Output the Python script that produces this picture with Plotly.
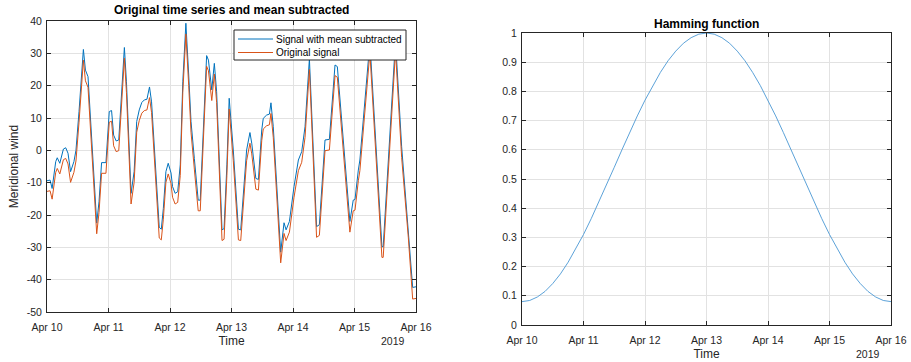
import pandas as pd
import plotly.graph_objects as go

# ---------------- data ----------------
start = pd.Timestamp("2019-04-10 00:00")

# hours since Apr 10 00:00 of the wind samples
hours = [0, 1.2, 2, 3.4, 4, 5, 6.4, 7.3, 8.2, 9.2, 10.5, 11.3, 12.5, 14.2, 15, 16,
         19.4, 20.3, 21.3, 23, 24.3, 25.2, 26, 27, 28, 29, 30.2, 31, 32.8, 34, 35,
         36, 37, 38, 39, 40, 40.8, 43.8, 44.6, 45.4, 46.4, 47.3, 48.4, 49, 50, 51,
         52, 53, 54.2, 55.3, 56.2, 57.5, 59, 59.8, 62.3, 63, 64.3, 65.3, 66.2, 68.3,
         69.1, 70.2, 71.1, 72.7, 74.7, 75.6, 76.9, 77.9, 79.2, 79.9, 81.5, 82.5, 83.8,
         84.4, 85.7, 86.8, 87.4, 88.3, 91.2, 92.5, 93.3, 94.6, 96.4, 98.1, 99.4, 100.7,
         102.4, 105.2, 106.3, 108.5, 110.2, 112.4, 113.3, 118.2, 119.5, 120.2, 121.5,
         122.1, 126, 130.7, 131.2, 136, 138.4, 141, 142.7, 144]

mean_subtracted = [-9.4, -9.2, -11.8, -3.5, -2.3, -4.0, 0.4, 0.8, -0.9, -6.6, -3.5, 0.0,
                   12.0, 31.2, 24.8, 22.8, -22.5, -15.9, -3.8, -3.8, 12.0, 12.3, 4.7, 2.9,
                   3.2, 15.0, 31.8, 21.2, -13.3, -6.6, 8.9, 12.5, 14.8, 15.6, 15.8, 19.6,
                   15.0, -23.8, -24.4, -18.0, -6.6, -4.0, -7.0, -11.2, -13.3, -12.8, -4.5,
                   21.2, 39.3, 23.3, 8.9, -2.5, -15.4, -15.4, 29.3, 27.9, 18.7, 26.9, 18.1,
                   -24.6, -24.2, -4.5, 16.1, 0.1, -24.4, -24.6, -11.2, 0.1, 5.5, 2.2, -8.7,
                   -9.0, 6.3, 9.9, 10.9, 11.2, 14.7, 7.3, -31.5, -22.4, -24.6, -22.0, -11.2,
                   -3.0, -0.4, 7.3, 28.3, -23.6, -23.0, 3.2, 3.4, 26.4, 25.9, -22.0, -15.4,
                   -15.2, -6.1, -3.0, 33.5, -29.8, -29.8, 34.0, 1.1, -23.6, -42.4, -42.2]

original = [-12.7, -12.5, -15.1, -6.8, -5.6, -7.3, -2.9, -2.5, -4.2, -9.9, -6.8, -3.3,
            8.7, 27.9, 21.5, 19.5, -25.8, -19.2, -7.1, -7.1, 8.7, 9.0, 1.4, -0.4,
            -0.1, 11.7, 28.5, 17.9, -16.6, -9.9, 5.6, 9.2, 11.5, 12.3, 12.5, 16.3,
            11.7, -27.1, -27.7, -21.3, -9.9, -7.3, -10.3, -14.5, -16.6, -16.1, -7.8,
            17.9, 36.0, 20.0, 5.6, -5.8, -18.7, -18.7, 26.0, 24.6, 15.4, 23.6, 14.8,
            -27.9, -27.5, -7.8, 12.8, -3.2, -27.7, -27.9, -14.5, -3.2, 2.2, -1.1, -12.0,
            -12.3, 3.0, 6.6, 7.6, 7.9, 11.4, 4.0, -34.8, -25.7, -27.9, -25.3, -14.5,
            -6.3, -3.7, 4.0, 25.0, -26.9, -26.3, -0.1, 0.1, 23.1, 22.6, -25.3, -18.7,
            -18.5, -9.4, -6.3, 30.2, -33.1, -33.1, 30.7, -2.2, -26.9, -46.0, -45.8]

hamming_hours = list(range(0, 145, 3))
hamming_values = [0.080, 0.084, 0.096, 0.115, 0.142, 0.175, 0.215, 0.260, 0.310, 0.364,
                  0.421, 0.480, 0.540, 0.600, 0.659, 0.716, 0.770, 0.820, 0.865, 0.905,
                  0.938, 0.965, 0.984, 0.996, 1.000, 0.996, 0.984, 0.965, 0.938, 0.905,
                  0.865, 0.820, 0.770, 0.716, 0.659, 0.600, 0.540, 0.480, 0.421, 0.364,
                  0.310, 0.260, 0.215, 0.175, 0.142, 0.115, 0.096, 0.084, 0.080]

series_names = ["Signal with mean subtracted", "Original signal"]
tick_dates = ["2019-04-10", "2019-04-11", "2019-04-12", "2019-04-13",
              "2019-04-14", "2019-04-15", "2019-04-16"]
tick_labels = ["Apr 10", "Apr 11", "Apr 12", "Apr 13", "Apr 14", "Apr 15", "Apr 16"]
wind_ticks = [-50, -40, -30, -20, -10, 0, 10, 20, 30, 40]
wind_tick_labels = ["-50", "-40", "-30", "-20", "-10", "0", "10", "20", "30", "40"]
ham_ticks = [0, 0.1, 0.2, 0.3, 0.4, 0.5, 0.6, 0.7, 0.8, 0.9, 1]
ham_tick_labels = ["0", "0.1", "0.2", "0.3", "0.4", "0.5", "0.6", "0.7", "0.8", "0.9", "1"]

# ---------------- figure ----------------
t = start + pd.to_timedelta(hours, unit="h")
th = start + pd.to_timedelta(hamming_hours, unit="h")

W, H = 911, 362
BLUE = "#0072BD"
ORANGE = "#D95319"
AX = "#262626"
GRID = "#E2E2E2"
FONT = "Liberation Sans, Arial, sans-serif"

fig = go.Figure()
fig.add_trace(go.Scatter(x=t, y=mean_subtracted, mode="lines", name=series_names[0],
                         line=dict(color=BLUE, width=1), xaxis="x", yaxis="y",
                         showlegend=False))
fig.add_trace(go.Scatter(x=t, y=original, mode="lines", name=series_names[1],
                         line=dict(color=ORANGE, width=1), xaxis="x", yaxis="y",
                         showlegend=False))
fig.add_trace(go.Scatter(x=th, y=hamming_values, mode="lines", name="Hamming",
                         line=dict(color="#4A97D4", width=0.9), xaxis="x2", yaxis="y2",
                         showlegend=False))


def px_x(p):
    return p / W


def px_y(p):
    return 1 - p / H


common_x = dict(type="date", range=[tick_dates[0], tick_dates[-1]], tickvals=tick_dates,
                ticktext=tick_labels, showgrid=True, gridcolor=GRID, gridwidth=1,
                showline=True, linecolor=AX, linewidth=1, mirror="ticks",
                ticks="inside", ticklen=4, tickcolor=AX, zeroline=False, automargin=False,
                ticklabelstandoff=5,
                tickfont=dict(family=FONT, size=10.5, color=AX),
                title=dict(text="Time", font=dict(family=FONT, size=12, color=AX), standoff=5))
common_y = dict(showgrid=True, gridcolor=GRID, gridwidth=1, showline=True, linecolor=AX,
                linewidth=1, mirror="ticks", ticks="inside", ticklen=4, tickcolor=AX,
                zeroline=False, automargin=False, ticklabelstandoff=2,
                tickfont=dict(family=FONT, size=10.5, color=AX))

# legend box drawn in paper pixels (decoration only)
LEG = dict(x0=234, x1=406, y0=30, y1=60, line_x0=238, line_x1=273, text_x=274,
           rows=[39, 52.5])
shapes = [dict(type="rect", xref="paper", yref="paper", layer="above",
               x0=px_x(LEG["x0"]), x1=px_x(LEG["x1"]), y0=px_y(LEG["y1"]), y1=px_y(LEG["y0"]),
               fillcolor="white", line=dict(color=AX, width=1))]
annotations = []
for name, color, row in zip(series_names, [BLUE, ORANGE], LEG["rows"]):
    shapes.append(dict(type="line", xref="paper", yref="paper", layer="above",
                       x0=px_x(LEG["line_x0"]), x1=px_x(LEG["line_x1"]),
                       y0=px_y(row), y1=px_y(row), line=dict(color=color, width=1)))
    annotations.append(dict(text=name, x=px_x(LEG["text_x"]), y=px_y(row), xref="paper",
                            yref="paper", showarrow=False, xanchor="left", yanchor="middle",
                            font=dict(family=FONT, size=10, color="#000000")))

annotations += [
    dict(text="<b>Original time series and mean subtracted</b>", x=px_x(231.5), y=px_y(10),
         xref="paper", yref="paper", showarrow=False, xanchor="center", yanchor="middle",
         font=dict(family=FONT, size=12, color="#000000")),
    dict(text="<b>Hamming function</b>", x=px_x(706.5), y=px_y(24),
         xref="paper", yref="paper", showarrow=False, xanchor="center", yanchor="middle",
         font=dict(family=FONT, size=12, color="#000000")),
    dict(text="2019", x=px_x(393), y=px_y(341), xref="paper", yref="paper",
         showarrow=False, xanchor="center", yanchor="middle",
         font=dict(family=FONT, size=10.5, color=AX)),
    dict(text="2019", x=px_x(868), y=px_y(354), xref="paper", yref="paper",
         showarrow=False, xanchor="center", yanchor="middle",
         font=dict(family=FONT, size=10.5, color=AX)),
]

fig.update_layout(
    width=W, height=H,
    margin=dict(l=0, r=0, t=0, b=0, pad=0),
    paper_bgcolor="white", plot_bgcolor="white",
    font=dict(family=FONT, color=AX),
    xaxis=dict(common_x, domain=[px_x(47), px_x(416)], anchor="y"),
    yaxis=dict(common_y, domain=[px_y(312), px_y(21)], anchor="x", range=[-50, 40],
               tickvals=wind_ticks, ticktext=wind_tick_labels,
               title=dict(text="Meridional wind", font=dict(family=FONT, size=12, color=AX),
                          standoff=5)),
    xaxis2=dict(common_x, domain=[px_x(522), px_x(891)], anchor="y2"),
    yaxis2=dict(common_y, domain=[px_y(325), px_y(33)], anchor="x2", range=[0, 1],
                tickvals=ham_ticks, ticktext=ham_tick_labels),
    showlegend=False,
    shapes=shapes,
    annotations=annotations,
)

fig.write_html("out.html")
